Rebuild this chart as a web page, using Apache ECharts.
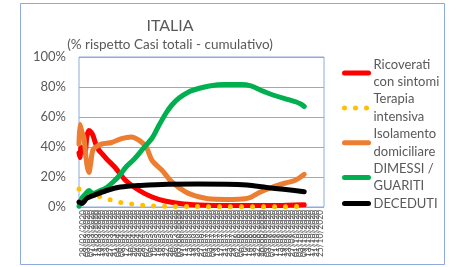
<!DOCTYPE html>
<html>
<head>
<meta charset="utf-8">
<script src="https://cdn.jsdelivr.net/npm/echarts@6/dist/echarts.min.js"></script>
<style>
  html, body { margin: 0; padding: 0; background: #fff; }
  #grafico { width: 452px; height: 267px; }
</style>
</head>
<body>
<div id="grafico"></div>
<script>
// date labels, one every 4 days from 24/02/2020
var dateLabels = [
    '24/02/2020', '28/02/2020', '03/03/2020', '07/03/2020', '11/03/2020', '15/03/2020', '19/03/2020', '23/03/2020',
    '27/03/2020', '31/03/2020', '04/04/2020', '08/04/2020', '12/04/2020', '16/04/2020', '20/04/2020', '24/04/2020',
    '28/04/2020', '02/05/2020', '06/05/2020', '10/05/2020', '14/05/2020', '18/05/2020', '22/05/2020', '26/05/2020',
    '30/05/2020', '03/06/2020', '07/06/2020', '11/06/2020', '15/06/2020', '19/06/2020', '23/06/2020', '27/06/2020',
    '01/07/2020', '05/07/2020', '09/07/2020', '13/07/2020', '17/07/2020', '21/07/2020', '25/07/2020', '29/07/2020',
    '02/08/2020', '06/08/2020', '10/08/2020', '14/08/2020', '18/08/2020', '22/08/2020', '26/08/2020', '30/08/2020',
    '03/09/2020', '07/09/2020', '11/09/2020', '15/09/2020', '19/09/2020', '23/09/2020', '27/09/2020', '01/10/2020',
    '05/10/2020', '09/10/2020', '13/10/2020', '17/10/2020', '21/10/2020', '25/10/2020', '29/10/2020'
];

// [giorno dal 24/02, % sui casi totali]
var ricoverati = [[0, 36], [1, 33], [2, 40], [4, 38], [6, 36], [8, 47], [10, 51], [12, 50], [14, 48], [17, 42],
    [20, 38], [24, 35], [28, 32], [37, 26], [47, 17.8], [61, 11], [74, 6.7], [88, 3.8], [106, 2], [129, 1.2],
    [160, 1], [200, 1], [228, 1.5]];
var terapia = [[0, 12], [4, 10.5], [8, 9.5], [14, 8.5], [18, 7.5], [23, 6.7], [33, 4.5], [43, 2.9], [55, 1.8],
    [66, 1.1], [77, 0.7], [90, 0.5], [110, 0.3], [150, 0.2], [200, 0.2], [228, 0.3]];
var isolamento = [[0, 42], [1, 55], [3, 50], [5, 46], [8, 28], [10, 23], [12, 30], [14, 38], [17, 40], [23, 42],
    [33, 43], [43, 45.6], [53, 46.7], [61, 44.4], [68, 40], [74, 31], [84, 24.5], [94, 16.7], [108, 10], [122, 6.7],
    [138, 5.1], [155, 5], [168, 5.5], [174, 6.5], [182, 9.5], [195, 13], [209, 16], [219, 17.8], [228, 21.8]];
var dimessi = [[0, 0.5], [3, 6], [7, 9], [10, 11], [14, 9], [20, 10.5], [28, 13], [35, 17], [41, 21], [48, 27],
    [56, 32], [65, 39], [74, 46], [81, 54.5], [88, 62.5], [94, 68], [101, 72.5], [111, 76.7], [121, 79], [132, 80.7],
    [147, 81.6], [164, 81.6], [174, 80.7], [184, 77.8], [195, 75], [212, 71.6], [220, 70], [225, 68.5], [228, 67]];
var deceduti = [[0, 3.3], [3, 2.4], [8, 5.8], [15, 7.8], [28, 11], [42, 13.3], [62, 14.4], [90, 15.2], [120, 15.3],
    [150, 15.2], [170, 14.6], [190, 13], [207, 11.8], [228, 10.2]];

var nomiSerie = ['Ricoverati con sintomi', 'Terapia intensiva', 'Isolamento domiciliare', 'DIMESSI / GUARITI', 'DECEDUTI'];
var etichetteLegenda = ['Ricoverati\ncon sintomi', 'Terapia\nintensiva', 'Isolamento\ndomiciliare', 'DIMESSI /\nGUARITI', 'DECEDUTI'];
var colori = ['#FF0000', '#FFC000', '#ED7D31', '#00B050', '#000000'];
var dati = [ricoverati, terapia, isolamento, dimessi, deceduti];

var font = 'Lato, "Open Sans", sans-serif';
var grigio = '#595959';
var blu = '#8FAADC';

var myChart = echarts.init(document.getElementById('grafico'));

var series_grafico = [];
dati.forEach(function (d, i) {
    series_grafico.push({
        name: nomiSerie[i],
        type: 'line',
        data: d,
        symbol: 'none',
        smooth: 0.3,
        lineStyle: i == 1
            ? { color: colori[i], width: 5, type: [0, 11], cap: 'round' }
            : { color: colori[i], width: 5, cap: 'round', join: 'round' },
        itemStyle: { color: colori[i] }
    });
});

var option = {
    animation: false,
    textStyle: { fontFamily: font },
    graphic: [{
        type: 'rect',
        shape: { x: 20.5, y: 3.5, width: 424, height: 261 },
        style: { fill: 'none', stroke: blu, lineWidth: 1 }
    }],
    title: {
        text: 'ITALIA',
        subtext: '(% rispetto Casi totali - cumulativo)',
        left: 165,
        textAlign: 'center',
        top: 13,
        itemGap: 4,
        textStyle: { fontFamily: font, fontSize: 16, fontWeight: 'normal', color: grigio },
        subtextStyle: { fontFamily: font, fontSize: 13.5, color: grigio }
    },
    legend: {
        orient: 'vertical',
        left: 337,
        top: 42,
        itemWidth: 24,
        itemHeight: 10,
        itemGap: -17.4,
        data: nomiSerie,
        itemStyle: { opacity: 0 },
        lineStyle: { width: 5 },
        formatter: function (name) {
            return etichetteLegenda[nomiSerie.indexOf(name)];
        },
        textStyle: {
            fontFamily: font, fontSize: 13, color: grigio,
            lineHeight: 17.4, padding: [17.4, 0, 0, 0]
        }
    },
    grid: { left: 79, top: 57, right: 128, bottom: 60, show: true, borderColor: blu, borderWidth: 1 },
    xAxis: {
        type: 'value',
        min: 0,
        max: 248,
        interval: 4,
        axisLine: { show: false },
        axisTick: { show: false },
        splitLine: { show: false },
        axisLabel: {
            rotate: 90,
            margin: 3,
            fontSize: 8.5,
            color: grigio,
            fontFamily: font,
            formatter: function (v) { return dateLabels[Math.round(v / 4)]; }
        }
    },
    yAxis: {
        type: 'value',
        min: 0,
        max: 100,
        interval: 20,
        axisLine: { show: false },
        axisTick: { show: false },
        splitLine: { lineStyle: { color: blu, width: 1 } },
        axisLabel: { formatter: '{value}%', fontSize: 13, color: grigio, fontFamily: font, margin: 13 }
    },
    series: series_grafico
};

myChart.setOption(option);
</script>
</body>
</html>
